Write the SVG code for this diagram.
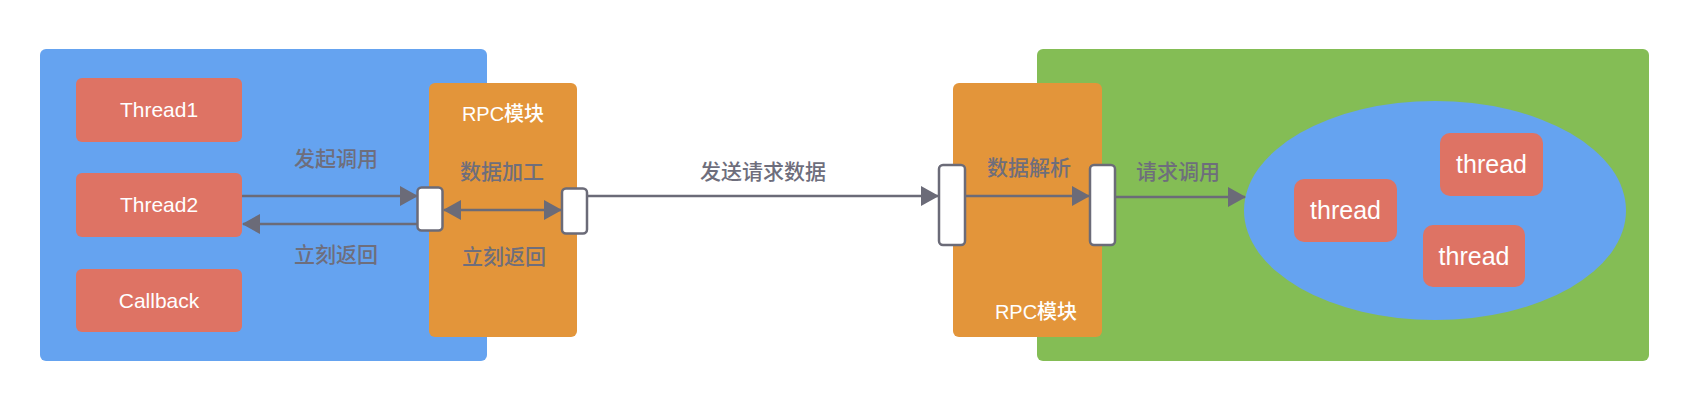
<svg xmlns="http://www.w3.org/2000/svg" width="1702" height="406" viewBox="0 0 1702 406">
<style>
.blue{fill:#65a3f0}
.green{fill:#84bd55}
.orange{fill:#e3953a}
.red{fill:#de7364}
.port{fill:#ffffff;stroke:#6b6b78;stroke-width:2.5}
.w{fill:#ffffff;font-family:"Liberation Sans","Noto Sans CJK SC",sans-serif;text-anchor:middle;font-weight:500}
.g{fill:#6e6e7c;font-family:"Liberation Sans","Noto Sans CJK SC",sans-serif;font-size:21px;text-anchor:middle;font-weight:500}
.c{stroke:#6b6b78;stroke-width:2.5;fill:none}
</style>
<defs>
<marker id="ah" markerUnits="userSpaceOnUse" markerWidth="18" markerHeight="20" refX="17" refY="10" orient="auto-start-reverse" viewBox="0 0 18 20">
<path d="M0,0 L18,10 L0,20 Z" fill="#6b6b78"/>
</marker>
</defs>
<rect width="1702" height="406" fill="#ffffff"/>
<g id="client">
<rect class="blue" x="40" y="49" width="447" height="312" rx="6"/>
</g>
<g id="server">
<rect class="green" x="1037" y="49" width="612" height="312" rx="6"/>
</g>
<g id="rpc-client">
<rect class="orange" x="429" y="83" width="148" height="254" rx="6"/>
<text class="w" x="503" y="121" font-size="20">RPC模块</text>
<text class="g" x="502" y="179">数据加工</text>
<text class="g" x="504" y="264">立刻返回</text>
</g>
<g id="rpc-server">
<rect class="orange" x="953" y="83" width="149" height="254" rx="6"/>
<text class="g" x="1029" y="175">数据解析</text>
<text class="w" x="1036" y="319" font-size="20">RPC模块</text>
</g>
<g id="thread1">
<rect class="red" x="76" y="78" width="166" height="64" rx="6"/>
<text class="w" x="159" y="117" font-size="21">Thread1</text>
</g>
<g id="thread2">
<rect class="red" x="76" y="173" width="166" height="64" rx="6"/>
<text class="w" x="159" y="212" font-size="21">Thread2</text>
</g>
<g id="callback">
<rect class="red" x="76" y="269" width="166" height="63" rx="6"/>
<text class="w" x="159" y="308" font-size="21">Callback</text>
</g>
<g id="pool">
<ellipse class="blue" cx="1435" cy="210.5" rx="191" ry="109.5"/>
</g>
<g id="threadA">
<rect class="red" x="1294" y="179" width="103" height="63" rx="10"/>
<text class="w" x="1345.5" y="219" font-size="25">thread</text>
</g>
<g id="threadB">
<rect class="red" x="1440" y="133" width="103" height="63" rx="10"/>
<text class="w" x="1491.5" y="173" font-size="25">thread</text>
</g>
<g id="threadC">
<rect class="red" x="1423" y="225" width="102" height="62" rx="10"/>
<text class="w" x="1474" y="265" font-size="25">thread</text>
</g>
<g id="connectors">
<line class="c" x1="242" y1="196" x2="417" y2="196" marker-end="url(#ah)"/>
<line class="c" x1="417" y1="224" x2="243" y2="224" marker-end="url(#ah)"/>
<line class="c" x1="444" y1="210" x2="561" y2="210" marker-start="url(#ah)" marker-end="url(#ah)"/>
<line class="c" x1="587" y1="196" x2="938" y2="196" marker-end="url(#ah)"/>
<line class="c" x1="965" y1="196" x2="1089" y2="196" marker-end="url(#ah)"/>
<line class="c" x1="1115" y1="197" x2="1245" y2="197" marker-end="url(#ah)"/>
<text class="g" x="336" y="166">发起调用</text>
<text class="g" x="336" y="262">立刻返回</text>
<text class="g" x="763" y="179">发送请求数据</text>
<text class="g" x="1178" y="179">请求调用</text>
</g>
<g id="ports">
<rect class="port" x="417.5" y="187.5" width="25" height="43" rx="4"/>
<rect class="port" x="562" y="188.5" width="25" height="45" rx="4"/>
<rect class="port" x="939" y="165" width="26" height="80" rx="4"/>
<rect class="port" x="1090" y="165" width="25" height="80" rx="4"/>
</g>
</svg>
